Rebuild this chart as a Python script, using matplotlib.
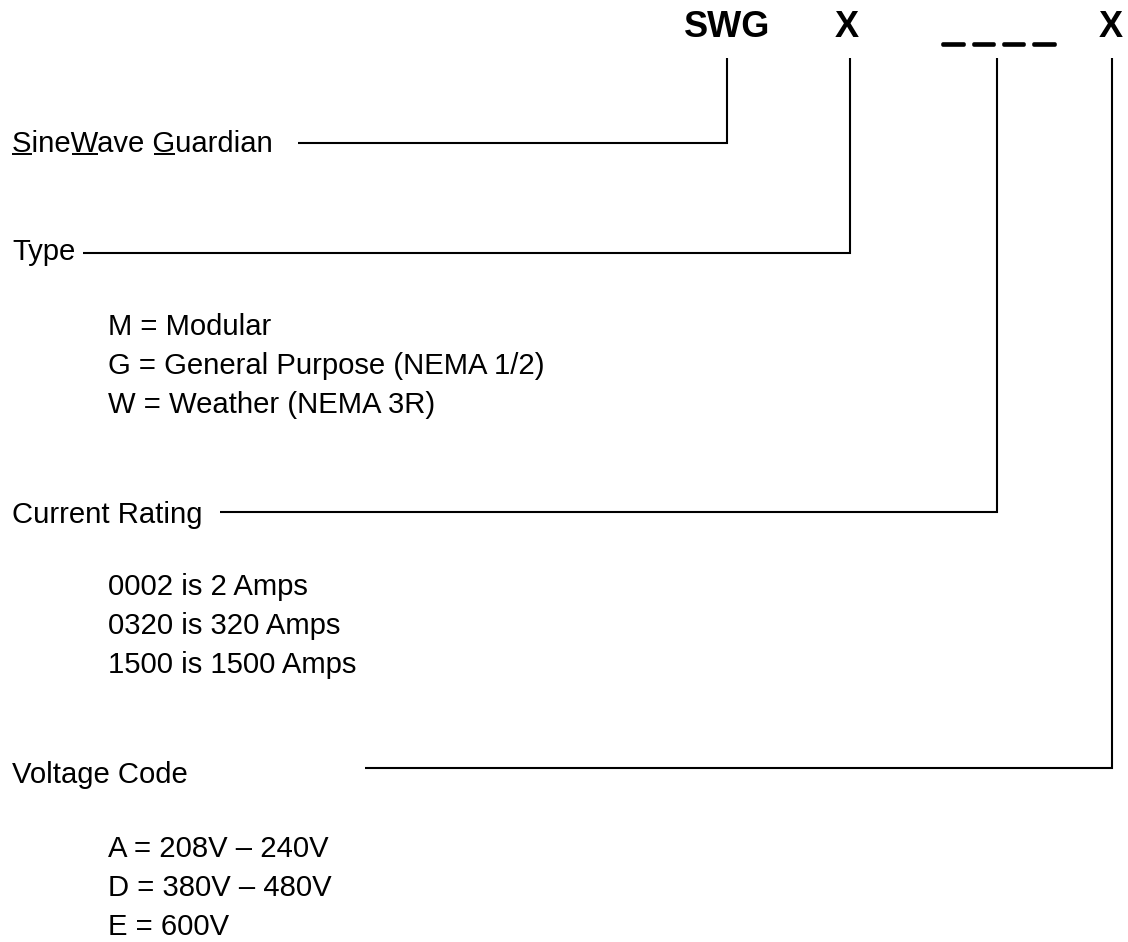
import matplotlib
matplotlib.use("Agg")
import matplotlib.pyplot as plt
import matplotlib.patheffects as pe

# ---- content ----
code_parts = ["SWG", "X", "_ _ _ _", "X"]
field_labels = ["SineWave Guardian", "Type", "Current Rating", "Voltage Code"]
underlined_letters = [0, 4, 9]  # indices of S, W, G in "SineWave Guardian"
type_options = ["M = Modular", "G = General Purpose (NEMA 1/2)", "W = Weather (NEMA 3R)"]
current_options = ["0002 is 2 Amps", "0320 is 320 Amps", "1500 is 1500 Amps"]
voltage_options = ["A = 208V \u2013 240V", "D = 380V \u2013 480V", "E = 600V"]
option_groups = [[], type_options, current_options, voltage_options]

# ---- layout (pixel coordinates) ----
W, H = 1128, 942
code_x = [727, 847, 999, 1111]
code_baseline = [37, 37, 41, 37]
line_x = [727, 850, 997, 1112]
line_top = 58
label_x = 12
label_baseline = [152, 260, 523, 783]
connector_y = [143, 253, 512, 768]
connector_start = [298, 83, 220, 365]
option_x = 108
option_first_baseline = [None, 335, 595, 857]
option_step = 39
FONT = "Liberation Sans"
fs_text = 21.1
fs_code = 26
lw = 1.5

fig = plt.figure(figsize=(W / 100, H / 100), dpi=100)
ax = fig.add_axes([0, 0, 1, 1])
ax.set_xlim(0, W)
ax.set_ylim(H, 0)
ax.axis("off")

for s, x, yb in zip(code_parts, code_x, code_baseline):
    t = ax.text(x, yb, s, fontsize=fs_code, fontweight="bold",
                family=FONT, ha="center", va="baseline", color="black")
    if s.startswith("_"):
        t.set_path_effects([pe.withStroke(linewidth=2.6, foreground="black")])

for i, lab in enumerate(field_labels):
    ax.text(label_x, label_baseline[i], lab, fontsize=fs_text, family=FONT,
            ha="left", va="baseline", color="black")
    # connector
    ax.plot([connector_start[i], line_x[i], line_x[i]],
            [connector_y[i], connector_y[i], line_top],
            color="black", lw=lw, solid_capstyle="butt", solid_joinstyle="miter")
    for j, opt in enumerate(option_groups[i]):
        ax.text(option_x, option_first_baseline[i] + j * option_step, opt,
                fontsize=fs_text, family=FONT, ha="left", va="baseline", color="black")

# underlines under S, W, G
renderer = fig.canvas.get_renderer()
def width_of(s):
    if not s:
        return 0.0
    t = ax.text(0, 0, s, fontsize=fs_text, family=FONT)
    bb = t.get_window_extent(renderer=renderer)
    t.remove()
    return bb.width

lab0 = field_labels[0]
for k in underlined_letters:
    x0 = label_x + width_of(lab0[:k]) + (1.5 if k > 0 else 0)
    x1 = label_x + width_of(lab0[:k + 1])
    ax.plot([x0, x1], [label_baseline[0] + 2, label_baseline[0] + 2],
            color="black", lw=1.4, solid_capstyle="butt")

fig.savefig("out.png", dpi=100, facecolor="white")
